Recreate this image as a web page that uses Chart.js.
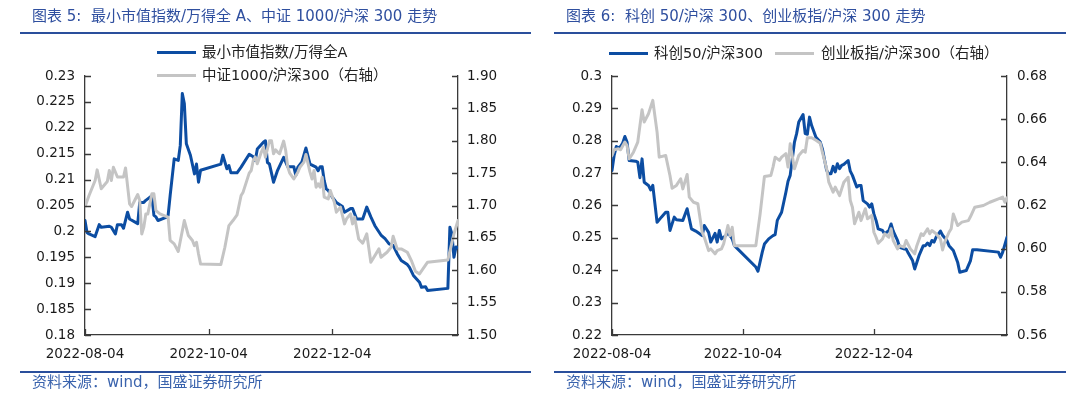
<!DOCTYPE html>
<html><head><meta charset="utf-8">
<script src="https://cdn.jsdelivr.net/npm/chart.js@4.4.0/dist/chart.umd.min.js"></script>
<style>
html,body{margin:0;padding:0;background:#fff;}
#wrap{position:relative;width:1080px;height:399px;overflow:hidden;font-family:"DejaVu Sans","Noto Sans CJK SC",sans-serif;}
canvas{position:absolute;top:0;}
.title{position:absolute;top:6px;font-size:15px;line-height:20px;color:#2f4f9f;white-space:nowrap;}
.rule{position:absolute;height:2px;background:#2a4f9c;}
.foot{position:absolute;top:373px;font-size:15px;line-height:18px;color:#3a63ad;white-space:nowrap;}
.lg{position:absolute;font-size:14.5px;line-height:18px;color:#222;white-space:nowrap;}
.sw{position:absolute;height:3px;}
</style></head>
<body><div id="wrap">
<canvas id="c1" width="540" height="399" style="left:0"></canvas>
<canvas id="c2" width="540" height="399" style="left:540px"></canvas>
<div class="title" style="left:32px">图表 5:&nbsp; 最小市值指数/万得全 A、中证 1000/沪深 300 走势</div>
<div class="title" style="left:566px">图表 6:&nbsp; 科创 50/沪深 300、创业板指/沪深 300 走势</div>
<div class="rule" style="left:20px;top:32px;width:511px"></div>
<div class="rule" style="left:554px;top:32px;width:512px"></div>
<div class="rule" style="left:20px;top:371px;width:511px"></div>
<div class="rule" style="left:554px;top:371px;width:512px"></div>
<div class="foot" style="left:32px">资料来源：wind，国盛证券研究所</div>
<div class="foot" style="left:566px">资料来源：wind，国盛证券研究所</div>
<div id="lg1"></div><div id="lg2"></div>
</div>
<script>
// ---------------- data ----------------
const START_DATE = '2022-08-04';
const END_DATE = '2023-02-04';
const xTickLabels = ['2022-08-04', '2022-10-04', '2022-12-04'];

// chart 5 — days since START_DATE
const leftBlueName = '最小市值指数/万得全A';
const leftBlueDays = [0,1,2,5,7,8,12,13,15,16, 18,19,21,22,26,27,29,30,33,34, 35,36,40,41,42,44,46,47,48,49, 50,52,54,55,56,57,67,68,70,71, 72,75,77,81,83,84,85,88,89,90, 91,93,95,98,100,103,104,105,107,109, 111,114,115,116,117,118,119,120,122,124, 127,128,131,132,134,137,139,141,143,146, 148,150,152,154,156,159,160,162,165,166, 168,169,179,180,181,182,183,184];
const leftBlueValues = [0.2021,0.1998,0.1995,0.1990,0.2013,0.2008,0.2010,0.2008,0.1995,0.2013, 0.2013,0.2006,0.2037,0.2024,0.2015,0.2056,0.2056,0.2060,0.2069,0.2031, 0.2028,0.2021,0.2027,0.2031,0.2069,0.2140,0.2137,0.2166,0.2266,0.2247, 0.2169,0.2147,0.2111,0.2130,0.2095,0.2118,0.2130,0.2147,0.2121,0.2127, 0.2113,0.2113,0.2124,0.2149,0.2144,0.2137,0.2159,0.2172,0.2175,0.2133, 0.2130,0.2095,0.2118,0.2143,0.2125,0.2125,0.2108,0.2124,0.2134,0.2161, 0.2130,0.2124,0.2117,0.2125,0.2125,0.2098,0.2082,0.2079,0.2066,0.2056, 0.2048,0.2037,0.2044,0.2044,0.2024,0.2024,0.2047,0.2028,0.2011,0.1993, 0.1986,0.1976,0.1973,0.1957,0.1944,0.1936,0.1931,0.1915,0.1902,0.1892, 0.1893,0.1886,0.1890,0.2008,0.1995,0.1950,0.1970,0.1968];

const leftGrayName = '中证1000/沪深300（右轴）';
const leftGrayDays = [0,2,5,6,8,11,12,13,14,16, 19,20,22,23,26,27,28,29,30,31, 33,34,35,37,39,41,42,44,46,49, 51,53,54,55,56,57,67,69,71,73, 75,77,78,81,82,83,84,85,87,88, 89,91,92,93,94,95,96,98,99,100, 101,103,105,106,108,109,111,112,113,114, 115,116,117,118,120,121,123,124,126,128, 129,131,132,133,135,137,139,141,142,145, 146,149,151,152,154,156,159,161,163,165, 169,179,182,184];
const leftGrayValues = [1.698,1.7155,1.7386,1.755,1.7258,1.737,1.754,1.7386,1.759,1.744, 1.744,1.758,1.7026,1.6984,1.717,1.7077,1.656,1.6665,1.687,1.687, 1.718,1.718,1.692,1.6871,1.6845,1.682,1.646,1.6407,1.629,1.6768, 1.6536,1.6459,1.6381,1.6433,1.6252,1.6098,1.6087,1.6355,1.669,1.6768, 1.6856,1.7155,1.7206,1.75,1.7541,1.7696,1.7747,1.7644,1.7825,1.79, 1.7747,1.80,1.80,1.7799,1.786,1.7825,1.7799,1.7995,1.785,1.7593, 1.75,1.741,1.7515,1.759,1.767,1.7789,1.7515,1.741,1.7541,1.7283, 1.7335,1.7283,1.7438,1.7129,1.7103,1.7232,1.705,1.6897,1.6974,1.6716, 1.6793,1.6871,1.6716,1.6819,1.6484,1.6417,1.6562,1.6124,1.6175,1.633, 1.6201,1.6278,1.6355,1.6526,1.633,1.633,1.6278,1.615,1.5985,1.5943, 1.6124,1.616,1.6562,1.6768];

const leftYTicksL = ['0.18','0.185','0.19','0.195','0.2','0.205','0.21','0.215','0.22','0.225','0.23'];
const leftYTicksR = ['1.50','1.55','1.60','1.65','1.70','1.75','1.80','1.85','1.90'];

// chart 6
const rightBlueName = '科创50/沪深300';
const rightBlueDays = [0,1,2,3,4,5,6,7,8,11, 12,13,14,15,17,18,19,20,21,23, 25,26,27,29,30,33,35,36,37,39, 41,42,43,45,46,48,49,50,51,53, 54,56,57,67,68,70,71,73,75,76, 77,79,81,82,83,85,86,87,89,90, 91,92,93,95,97,98,100,101,102,103, 104,105,106,107,108,110,111,112,114,115, 116,117,119,120,121,122,123,124,126,127, 129,130,131,133,134,136,137,138,140,141, 143,145,146,147,148,149,150,151,153,154, 156,157,159,161,162,165,167,168,170,180, 181,182,184];
const rightBlueValues = [0.2708,0.2755,0.2782,0.2778,0.2782,0.2793,0.2813,0.2796,0.2739,0.2737, 0.2734,0.2686,0.2744,0.2672,0.2662,0.2648,0.2662,0.2605,0.2548,0.2564, 0.2579,0.2579,0.2523,0.2564,0.2556,0.2554,0.2590,0.2559,0.2528,0.2521, 0.2512,0.2507,0.2538,0.2517,0.2487,0.2514,0.2487,0.2523,0.2497,0.2507, 0.2517,0.2497,0.2476,0.2410,0.2397,0.2456,0.2481,0.2497,0.2507,0.2510, 0.2554,0.2579,0.2641,0.2675,0.2693,0.2796,0.2822,0.2858,0.2881,0.2822, 0.2820,0.2873,0.2847,0.2811,0.2796,0.2775,0.2708,0.2698,0.2698,0.2721, 0.2704,0.2729,0.2714,0.2724,0.2727,0.2739,0.2706,0.2693,0.2657,0.2662, 0.2662,0.2615,0.2605,0.2595,0.2605,0.2574,0.2554,0.2528,0.2523,0.2512, 0.2523,0.2543,0.2521,0.2492,0.2471,0.2466,0.2466,0.2453,0.2430,0.2404, 0.2445,0.2476,0.2476,0.2484,0.2476,0.2492,0.2487,0.2502,0.2521,0.2508, 0.2492,0.2476,0.2461,0.2425,0.2394,0.2399,0.2430,0.2463,0.2463,0.2456, 0.2440,0.2456,0.2502];

const rightGrayName = '创业板指/沪深300（右轴）';
const rightGrayDays = [0,1,3,4,6,7,8,10,12,14, 15,17,19,21,22,25,27,28,30,32, 33,35,36,38,40,42,43,45,46,48, 49,51,52,54,55,56,57,67,69,71, 74,75,76,78,79,81,82,83,85,87, 89,90,91,93,95,97,98,100,101,103, 104,106,107,108,110,111,112,113,115,116, 118,119,120,121,122,123,124,126,127,129, 130,131,133,134,136,137,139,141,142,144, 145,147,148,149,151,153,154,155,157,158, 159,161,163,166,167,169,173,176,180,182, 183,184];
const rightGrayValues = [0.6432,0.6458,0.6463,0.6458,0.6494,0.6478,0.6416,0.6447,0.6494,0.6644, 0.6587,0.6625,0.6687,0.6540,0.6424,0.6432,0.6339,0.6280,0.6293,0.6324, 0.6277,0.6344,0.6239,0.6215,0.6208,0.6076,0.6053,0.5991,0.5999,0.5976, 0.5991,0.5999,0.6022,0.6107,0.6060,0.6099,0.6014,0.6014,0.6161,0.6334, 0.6339,0.6378,0.6424,0.6409,0.6424,0.6440,0.6378,0.6486,0.6370,0.6432, 0.6455,0.6447,0.6514,0.6514,0.6502,0.6489,0.6447,0.6370,0.6308,0.6262, 0.6285,0.6246,0.6277,0.6308,0.6331,0.6223,0.6192,0.6115,0.6169,0.6130, 0.6185,0.6139,0.6146,0.6154,0.6076,0.6053,0.6025,0.6045,0.6069,0.6053, 0.6092,0.6038,0.5999,0.6014,0.6007,0.6038,0.5999,0.5976,0.6014,0.6069, 0.6061,0.6092,0.6069,0.6084,0.6069,0.6045,0.5994,0.6030,0.6076,0.6092, 0.6161,0.6107,0.6123,0.6130,0.6149,0.6192,0.6200,0.6215,0.6231,0.6239, 0.6215,0.6236];

const rightYTicksL = ['0.22','0.23','0.24','0.25','0.26','0.27','0.28','0.29','0.3'];
const rightYTicksR = ['0.56','0.58','0.60','0.62','0.64','0.66','0.68'];

// ---------------- styles ----------------
const BLUE = '#0c4da2';
const GRAY = '#c4c4c4';
const AXIS = '#3a3a3a';
const TICKFONT = {family: 'DejaVu Sans', size: 13.5};

function dayOf(s) {
  return Math.round((Date.parse(s + 'T00:00:00Z') - Date.parse(START_DATE + 'T00:00:00Z')) / 86400000);
}
function zip(xs, ys) {
  const n = Math.min(xs.length, ys.length);
  const out = [];
  for (let i = 0; i < n; i++) out.push({x: xs[i], y: ys[i]});
  return out;
}

const innerTicks = {
  id: 'innerTicks',
  afterDraw(chart) {
    const ctx = chart.ctx, a = chart.chartArea;
    const yl = chart.scales.yL, yr = chart.scales.yR, x = chart.scales.x;
    ctx.save();
    ctx.strokeStyle = AXIS;
    ctx.lineWidth = 1.3;
    ctx.beginPath();
    yl.ticks.forEach(t => { const y = Math.round(yl.getPixelForValue(t.value)) + 0.5; ctx.moveTo(a.left, y); ctx.lineTo(a.left + 6, y); });
    yr.ticks.forEach(t => { const y = Math.round(yr.getPixelForValue(t.value)) + 0.5; ctx.moveTo(a.right, y); ctx.lineTo(a.right - 6, y); });
    x.ticks.forEach(t => { const px = Math.round(x.getPixelForValue(t.value)) + 0.5; ctx.moveTo(px, a.bottom); ctx.lineTo(px, a.bottom - 6); });
    ctx.stroke();
    ctx.restore();
  }
};

function yScale(pos, labels, width, pad) {
  return {
    type: 'linear', position: pos,
    min: parseFloat(labels[0]), max: parseFloat(labels[labels.length - 1]),
    grid: {display: false, drawTicks: false},
    border: {display: true, color: AXIS, width: 1.3},
    afterBuildTicks: s => { s.ticks = labels.map(l => ({value: parseFloat(l)})); },
    afterFit: s => { s.width = width; },
    ticks: {font: TICKFONT, color: '#1a1a1a', padding: pad, callback: (v, i) => labels[i]}
  };
}

function makeChart(id, blue, gray, yl, yr, wl, wr, padL, padR) {
  const tickDays = xTickLabels.map(dayOf);
  return new Chart(document.getElementById(id), {
    type: 'line',
    data: {datasets: [
      {label: blue.name, data: zip(blue.days, blue.values), yAxisID: 'yL', borderColor: BLUE, backgroundColor: BLUE, borderWidth: 3, pointRadius: 0, tension: 0, order: 2, borderJoinStyle: 'round', borderCapStyle: 'round'},
      {label: gray.name, data: zip(gray.days, gray.values), yAxisID: 'yR', borderColor: GRAY, backgroundColor: GRAY, borderWidth: 3, pointRadius: 0, tension: 0, order: 1, borderJoinStyle: 'round', borderCapStyle: 'round'}
    ]},
    options: {
      responsive: false, maintainAspectRatio: false, animation: false,
      layout: {padding: {top: 76, left: 0, right: 0, bottom: 0}},
      plugins: {legend: {display: false}, tooltip: {enabled: false}},
      scales: {
        x: {
          type: 'linear', min: 0, max: dayOf(END_DATE),
          grid: {display: false, drawTicks: false},
          border: {display: true, color: AXIS, width: 1.3},
          afterBuildTicks: s => { s.ticks = tickDays.map(d => ({value: d})); },
          afterFit: s => { s.height = 64; },
          ticks: {font: TICKFONT, color: '#1a1a1a', padding: 11, autoSkip: false, maxRotation: 0, callback: (v, i) => xTickLabels[i]}
        },
        yL: yScale('left', yl, wl, padL),
        yR: yScale('right', yr, wr, padR)
      }
    },
    plugins: [innerTicks]
  });
}

makeChart('c1', {name: leftBlueName, days: leftBlueDays, values: leftBlueValues},
  {name: leftGrayName, days: leftGrayDays, values: leftGrayValues}, leftYTicksL, leftYTicksR, 85, 82, 10, 9);
makeChart('c2', {name: rightBlueName, days: rightBlueDays, values: rightBlueValues},
  {name: rightGrayName, days: rightGrayDays, values: rightGrayValues}, rightYTicksL, rightYTicksR, 72, 73, 10, 10);

// legends (HTML)
function legendItem(host, name, color, lineX, y, textX) {
  const sw = document.createElement('div');
  sw.className = 'sw';
  sw.style.cssText = `left:${lineX}px;top:${y - 1.5}px;width:39px;background:${color}`;
  const tx = document.createElement('div');
  tx.className = 'lg';
  tx.style.cssText = `left:${textX}px;top:${y - 9}px`;
  tx.textContent = name;
  host.appendChild(sw); host.appendChild(tx);
}
const lg1 = document.getElementById('lg1'), lg2 = document.getElementById('lg2');
legendItem(lg1, leftBlueName, BLUE, 157, 52, 202);
legendItem(lg1, leftGrayName, GRAY, 157, 75, 202);
legendItem(lg2, rightBlueName, BLUE, 609, 53, 654);
legendItem(lg2, rightGrayName, GRAY, 775, 53, 821);
</script>
</body></html>
